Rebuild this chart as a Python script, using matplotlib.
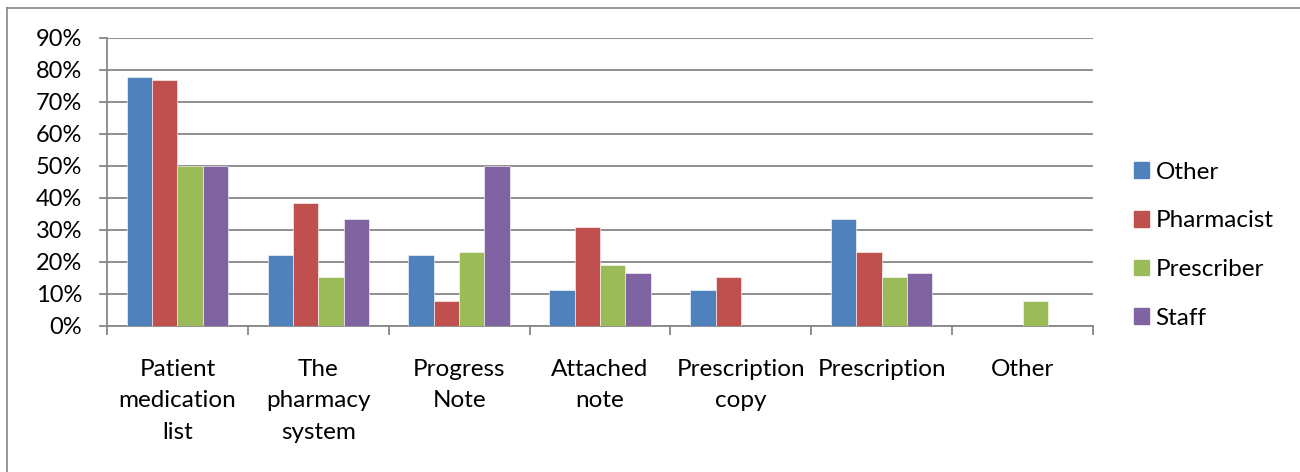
import matplotlib
matplotlib.use("Agg")
import matplotlib.pyplot as plt
from matplotlib.lines import Line2D
import numpy as np

categories = ["Patient\nmedication\nlist", "The\npharmacy\nsystem", "Progress\nNote",
              "Attached\nnote", "Prescription\ncopy", "Prescription", "Other"]
series_names = ["Other", "Pharmacist", "Prescriber", "Staff"]
other_vals = [77.8, 22.2, 22.2, 11.1, 11.1, 33.3, 0.0]
pharmacist_vals = [76.9, 38.5, 7.7, 30.8, 15.4, 23.1, 0.0]
prescriber_vals = [50.0, 15.4, 23.1, 19.2, 0.0, 15.4, 7.7]
staff_vals = [50.0, 33.3, 50.0, 16.7, 0.0, 16.7, 0.0]
y_ticks = [0, 10, 20, 30, 40, 50, 60, 70, 80, 90]

colors = ["#4F81BD", "#C0504D", "#9BBB59", "#8064A2"]
grid_col = "#878787"

plt.rcParams["font.family"] = ["Lato", "DejaVu Sans"]

W, H = 1300, 472
fig = plt.figure(figsize=(W / 100, H / 100), dpi=100)
ax = fig.add_axes([107 / W, (H - 326) / H, (1093 - 107) / W, (326 - 38) / H])

series = [other_vals, pharmacist_vals, prescriber_vals, staff_vals]
x = np.arange(len(categories))
bw = 0.18
for i, (vals, name, c) in enumerate(zip(series, series_names, colors)):
    ax.bar(x + (i - 1.5) * bw, vals, width=bw, color=c, label=name,
           edgecolor="white", linewidth=0.4, zorder=3)

ax.set_xlim(-0.5, len(categories) - 0.5)
ax.set_ylim(0, 90)
ax.set_yticks(y_ticks)
ax.set_yticklabels([f"{v}%" for v in y_ticks], fontsize=17)
ax.yaxis.grid(True, color=grid_col, linewidth=1.3, zorder=0)
ax.set_axisbelow(True)

ax.set_xticks(x)
ax.set_xticklabels(categories, fontsize=17.5, linespacing=1.63)
ax.set_xticks(np.arange(-0.5, len(categories)), minor=True)
ax.tick_params(axis="x", which="major", length=0, pad=23.5)
ax.tick_params(axis="x", which="minor", length=6.5, width=1.3, color=grid_col)
ax.tick_params(axis="y", length=6, width=1.3, color=grid_col, pad=12)

for s in ["top", "right"]:
    ax.spines[s].set_visible(False)
for s in ["left", "bottom"]:
    ax.spines[s].set_color(grid_col)
    ax.spines[s].set_linewidth(1.3)

handles = [plt.Rectangle((0, 0), 1, 1, color=c) for c in colors]
fig.legend(handles, series_names, loc="upper left", bbox_to_anchor=(1124 / W, 1 - 152 / H),
           frameon=False, fontsize=17.5, handlelength=0.62, handleheight=0.62,
           handletextpad=0.28, labelspacing=1.14, borderaxespad=0)

# outer chart frame
fig.add_artist(Line2D([6.5 / W, 6.5 / W], [0, 1 - 8 / H], transform=fig.transFigure,
                      color=grid_col, linewidth=1.2))
fig.add_artist(Line2D([6.5 / W, 1], [1 - 8 / H, 1 - 8 / H], transform=fig.transFigure,
                      color=grid_col, linewidth=1.2))

fig.savefig("out.png", dpi=100)
